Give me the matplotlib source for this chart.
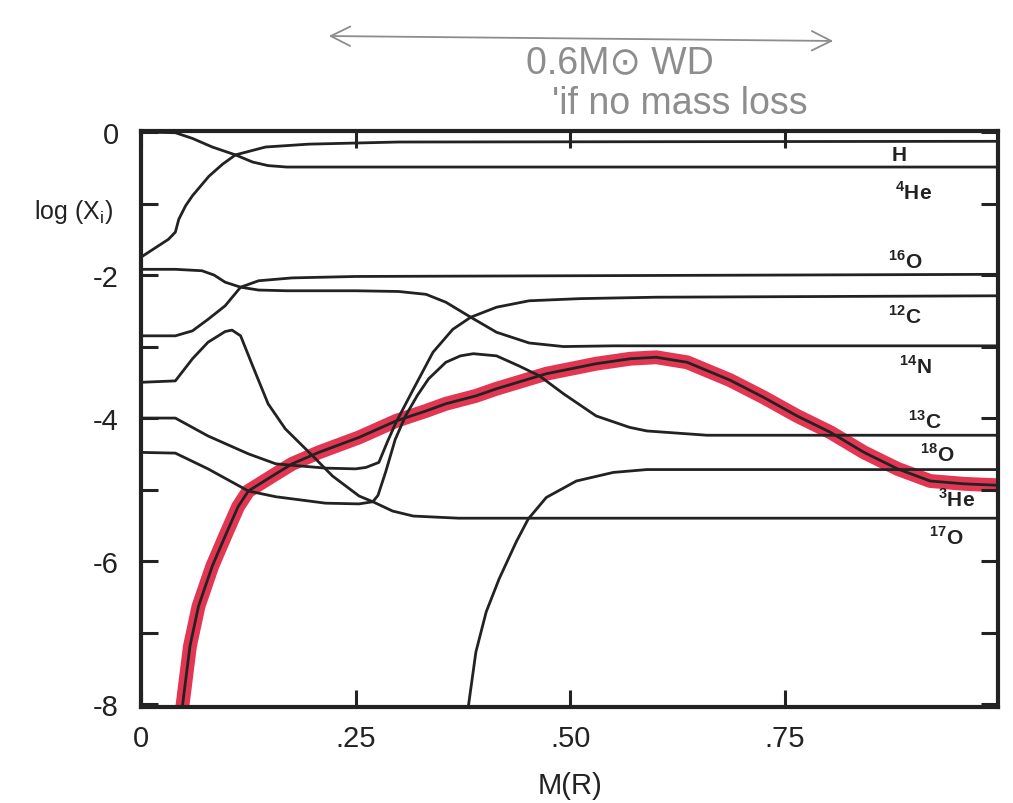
"""Abundance profiles log(X_i) against mass coordinate, with a pencil note on top."""
import matplotlib
matplotlib.use("Agg")
import matplotlib.pyplot as plt
from matplotlib.patches import FancyArrowPatch

# Profiles read as (mass fraction of interior, log abundance)
h_m = [0.0, 0.032, 0.040, 0.044, 0.052, 0.060, 0.079, 0.095, 0.110, 0.145, 0.195, 0.30, 1.0]
h_y = [-1.75, -1.50, -1.40, -1.22, -1.03, -0.89, -0.62, -0.45, -0.32, -0.21, -0.17, -0.14, -0.13]

he4_m = [0.0, 0.04, 0.06, 0.083, 0.110, 0.130, 0.148, 0.17, 0.195, 1.0]
he4_y = [0.0, -0.01, -0.09, -0.21, -0.32, -0.42, -0.47, -0.49, -0.49, -0.49]

o16_m = [0.0, 0.04, 0.06, 0.078, 0.098, 0.116, 0.137, 0.176, 0.25, 1.0]
o16_y = [-2.85, -2.85, -2.78, -2.62, -2.43, -2.17, -2.08, -2.04, -2.02, -1.99]

c12_m = [0.0, 0.040, 0.078, 0.125, 0.157, 0.215, 0.250, 0.262, 0.277, 0.287, 0.297,
         0.317, 0.340, 0.363, 0.384, 0.414, 0.452, 0.511, 0.60, 1.0]
c12_y = [-4.0, -4.0, -4.25, -4.50, -4.64, -4.70, -4.71, -4.69, -4.62, -4.33, -4.06,
         -3.60, -3.08, -2.76, -2.59, -2.45, -2.36, -2.33, -2.31, -2.29]

n14_m = [0.0, 0.04, 0.071, 0.085, 0.098, 0.116, 0.137, 0.17, 0.25, 0.30, 0.332,
         0.355, 0.384, 0.414, 0.452, 0.492, 0.55, 1.0]
n14_y = [-1.92, -1.92, -1.94, -2.0, -2.10, -2.17, -2.21, -2.22, -2.22, -2.23, -2.27,
         -2.38, -2.59, -2.80, -2.95, -3.0, -2.99, -2.99]

c13_m = [0.0, 0.040, 0.078, 0.125, 0.157, 0.215, 0.254, 0.270, 0.276, 0.285, 0.296,
         0.308, 0.322, 0.335, 0.355, 0.372, 0.387, 0.414, 0.440, 0.464, 0.492,
         0.530, 0.569, 0.589, 0.659, 1.0]
c13_y = [-4.48, -4.49, -4.71, -5.02, -5.10, -5.19, -5.20, -5.17, -5.08, -4.75, -4.30,
         -3.97, -3.68, -3.45, -3.22, -3.13, -3.10, -3.13, -3.27, -3.41, -3.66,
         -3.97, -4.13, -4.18, -4.24, -4.24]

o18_m = [0.381, 0.390, 0.402, 0.417, 0.437, 0.451, 0.472, 0.507, 0.550, 0.589, 0.65, 1.0]
o18_y = [-8.05, -7.27, -6.71, -6.25, -5.73, -5.41, -5.11, -4.88, -4.76, -4.72, -4.72, -4.72]

he3_m = [0.048, 0.057, 0.067, 0.083, 0.098, 0.113, 0.125, 0.141, 0.157, 0.176, 0.207,
         0.254, 0.297, 0.332, 0.355, 0.390, 0.414, 0.472, 0.530, 0.570, 0.600, 0.636,
         0.686, 0.725, 0.764, 0.803, 0.842, 0.881, 0.919, 0.959, 0.998]
he3_y = [-8.05, -7.19, -6.63, -6.07, -5.65, -5.24, -5.02, -4.90, -4.78, -4.64, -4.48,
         -4.27, -4.04, -3.90, -3.80, -3.69, -3.59, -3.38, -3.24, -3.17, -3.15, -3.22,
         -3.47, -3.71, -3.97, -4.20, -4.48, -4.71, -4.88, -4.92, -4.94]

o17_m = [0.0, 0.04, 0.06, 0.078, 0.098, 0.106, 0.116, 0.130, 0.148, 0.168, 0.200,
         0.223, 0.254, 0.270, 0.293, 0.317, 0.370, 1.0]
o17_y = [-3.50, -3.48, -3.17, -2.94, -2.79, -2.77, -2.85, -3.27, -3.80, -4.15, -4.53,
         -4.81, -5.09, -5.17, -5.30, -5.37, -5.40, -5.40]

# species names and where they sit at the right edge
species = ["H", "$^{\\mathbf{4}}$He", "$^{\\mathbf{16}}$O", "$^{\\mathbf{12}}$C",
           "$^{\\mathbf{14}}$N", "$^{\\mathbf{13}}$C", "$^{\\mathbf{18}}$O",
           "$^{\\mathbf{3}}$He", "$^{\\mathbf{17}}$O"]
species_m = [0.883, 0.900, 0.890, 0.890, 0.902, 0.913, 0.927, 0.950, 0.938]
species_y = [-0.31, -0.83, -1.79, -2.57, -3.27, -4.04, -4.50, -5.13, -5.65]

x_ticks = [0.0, 0.25, 0.50, 0.75]
x_ticklabels = ["0", ".25", ".50", ".75"]
y_ticks = [0, -2, -4, -6, -8]
y_ticklabels = ["0", "-2", "-4", "-6", "-8"]

plt.rcParams["font.family"] = ["Liberation Sans", "DejaVu Sans"]
plt.rcParams["mathtext.fontset"] = "custom"
plt.rcParams["mathtext.rm"] = "Liberation Sans"
plt.rcParams["mathtext.bf"] = "Liberation Sans:bold"

fig = plt.figure(figsize=(10.13, 8.04), dpi=100)
ax = fig.add_axes([141 / 1013, 96 / 804, 857 / 1013, 576 / 804])

ink = "#222222"
kw = dict(color=ink, lw=2.0, solid_joinstyle="round", solid_capstyle="round")

# marker-pen highlight under the 3He profile
ax.plot(he3_m, he3_y, color="#e0203f", lw=10, alpha=0.9,
        solid_joinstyle="round", solid_capstyle="round", zorder=1)

for m, y in [(h_m, h_y), (he4_m, he4_y), (o16_m, o16_y), (c12_m, c12_y),
             (n14_m, n14_y), (c13_m, c13_y), (o18_m, o18_y), (he3_m, he3_y),
             (o17_m, o17_y)]:
    ax.plot(m, y, zorder=2, **kw)

for name, m, y in zip(species, species_m, species_y):
    ax.text(m, y, name, fontsize=15, fontweight="bold", color=ink,
            ha="center", va="center")

ax.set_xlim(0.0, 0.998)
ax.set_ylim(-8.04, 0.014)

ax.set_xticks(x_ticks)
ax.set_xticklabels(x_ticklabels, fontsize=21)
ax.set_yticks(y_ticks)
ax.set_yticklabels(y_ticklabels, fontsize=21)
ax.set_yticks(range(0, -9, -1), minor=True)
ax.tick_params(which="both", direction="in", top=True, right=True,
               width=2.2, color=ink, labelcolor=ink, length=12)
ax.tick_params(axis="x", which="major", pad=12)
ax.tick_params(axis="y", which="major", pad=16)
ax.tick_params(axis="x", which="minor", bottom=False, top=False)
for s in ax.spines.values():
    s.set_linewidth(3.0)
    s.set_color(ink)

ax.set_xlabel("M(R)", fontsize=21, color=ink, labelpad=14)
fig.text(74 / 1013, 1 - 212 / 804, "log (X$_\\mathrm{i}$)", fontsize=18,
         color=ink, ha="center", va="center")

# pencil note above the plot
pencil = "#8d8d8d"
fig.patches.append(FancyArrowPatch(
    (326 / 1013, 1 - 37 / 804), (836 / 1013, 1 - 42 / 804),
    transform=fig.transFigure, arrowstyle="<->,head_length=14,head_width=7",
    color=pencil, lw=1.3, mutation_scale=1))
fig.text(620 / 1013, 1 - 63 / 804, "0.6M\u2299 WD", fontsize=27,
         color=pencil, ha="center", va="center")
fig.text(680 / 1013, 1 - 104 / 804, "'if no mass loss", fontsize=27,
         color=pencil, ha="center", va="center")

fig.savefig("out.png", dpi=100)
